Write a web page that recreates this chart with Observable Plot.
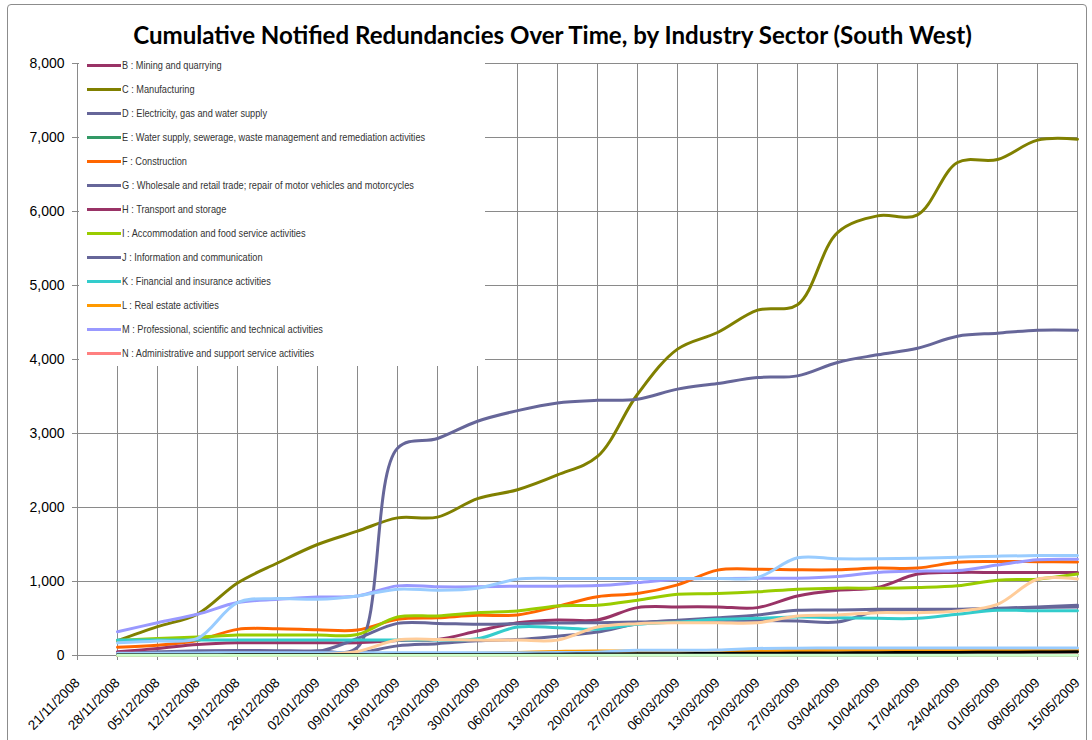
<!DOCTYPE html>
<html>
<head>
<meta charset="utf-8">
<script src="https://cdn.jsdelivr.net/npm/d3@7"></script>
<script src="https://cdn.jsdelivr.net/npm/@observablehq/plot@0.6"></script>
<style>
  html, body { margin: 0; padding: 0; background: #fff; overflow: hidden; }
  #wrap { position: relative; width: 1092px; height: 740px; overflow: hidden; }
  #frame { position: absolute; left: 7px; top: 4px; width: 1080px; height: 760px; border: 1px solid #8c8c8c; border-radius: 4px; box-sizing: border-box; }
  #title { position: absolute; left: 0; width: 1105px; top: 20px; text-align: center; font-family: Lato, "Open Sans", sans-serif; font-weight: 700; font-size: 23px; color: #000; white-space: nowrap; }
  #chart { position: absolute; left: 0; top: 0; }
  #legend { position: absolute; left: 79px; top: 56px; width: 406px; height: 310px; background: #fff; }
  .item { position: absolute; left: 8px; height: 14px; display: flex; align-items: center; white-space: nowrap; }
  .sw { width: 34px; height: 3px; margin-right: 1px; flex: none; }
  .lab { display: inline-block; font-family: "Liberation Sans", Arial, sans-serif; font-size: 11px; color: #333; transform-origin: 0 50%; }
</style>
</head>
<body>
<div id="wrap">
  <div id="frame"></div>
  <div id="chart"></div>
  <div id="title">Cumulative Notified Redundancies Over Time, by Industry Sector (South West)</div>
  <div id="legend"></div>
</div>
<script>
// Category axis (weekly dates)
const dates = ["21/11/2008","28/11/2008","05/12/2008","12/12/2008","19/12/2008","26/12/2008","02/01/2009","09/01/2009","16/01/2009","23/01/2009","30/01/2009","06/02/2009","13/02/2009","20/02/2009","27/02/2009","06/03/2009","13/03/2009","20/03/2009","27/03/2009","03/04/2009","10/04/2009","17/04/2009","24/04/2009","01/05/2009","08/05/2009","15/05/2009"];

// Series names (legend shows B..N)
const names = [
  "B : Mining and quarrying",
  "C : Manufacturing",
  "D : Electricity, gas and water supply",
  "E : Water supply, sewerage, waste management and remediation activities",
  "F : Construction",
  "G : Wholesale and retail trade; repair of motor vehicles and motorcycles",
  "H : Transport and storage",
  "I : Accommodation and food service activities",
  "J : Information and communication",
  "K : Financial and insurance activities",
  "L : Real estate activities",
  "M : Professional, scientific and technical activities",
  "N : Administrative and support service activities",
  "O : Public administration and defence",
  "P : Education",
  "Q : Human health and social work activities",
  "R : Arts, entertainment and recreation",
  "S : Other service activities"
];
const colors = ["#993366","#808000","#666699","#339966","#FF6600","#666699","#993366","#99CC00","#666699","#33CCCC","#FF9900","#9999FF","#FF8080","#99CCFF","#99CCFF","#FFCC99","#000000","#CCFFCC"];
const legendCount = 13;

// Values (cumulative redundancies), index 0 = 21/11/2008 (no data)
const B = [null,0,0,0,0,0,0,0,5,5,5,5,5,5,5,5,5,5,5,8,8,8,8,8,8,8];
const C = [null,200,390,560,980,1250,1500,1680,1860,1870,2120,2240,2440,2690,3530,4140,4365,4667,4740,5716,5941,5955,6662,6703,6964,6977];
const D = [null,0,0,5,10,10,10,30,130,160,200,216,261,317,430,475,511,548,611,615,624,624,624,633,647,656];
const E = [null,0,0,0,0,0,0,0,3,3,3,3,3,3,5,5,5,5,5,5,5,5,5,5,5,5];
const F = [null,113,140,204,353,362,348,344,489,511,543,548,665,795,837,955,1154,1167,1158,1158,1181,1181,1260,1270,1268,1265];
const G = [null,30,50,65,68,65,65,110,2800,2933,3166,3309,3413,3448,3464,3600,3676,3757,3779,3960,4063,4153,4315,4356,4396,4396];
const H = [null,50,95,149,172,172,172,172,204,217,330,443,480,480,647,656,656,647,805,882,919,1100,1122,1122,1122,1122];
const I = [null,204,231,249,276,276,276,285,520,534,579,602,670,680,747,828,837,860,896,910,910,919,941,1018,1032,1100];
const J = [null,20,30,40,45,45,50,230,434,434,421,430,439,443,452,470,475,475,466,452,600,620,622,638,656,679];
const K = [null,208,208,208,208,208,208,208,210,210,226,385,376,355,421,452,489,502,520,511,502,502,557,611,605,605];
const L = [null,0,0,0,0,0,5,10,20,25,30,40,55,60,62,62,62,65,68,70,72,72,72,74,75,76];
const M = [null,321,443,557,715,760,790,805,941,928,928,937,937,945,985,1032,1040,1045,1045,1068,1122,1140,1148,1222,1293,1300];
const N = [null,0,0,0,0,0,0,2,4,4,4,4,4,4,6,6,6,6,6,6,6,6,6,6,6,6];
const O = [null,172,195,231,715,769,760,805,896,882,910,1032,1041,1041,1041,1041,1041,1054,1320,1306,1306,1315,1329,1342,1351,1351];
const P = [null,30,32,35,36,36,36,36,36,36,36,36,40,45,70,72,75,95,99,100,100,100,100,100,100,100];
const Q = [null,0,0,0,0,5,10,55,208,217,208,208,208,385,430,443,443,443,534,548,579,579,602,692,1030,1035];
const R = [null,10,10,10,12,12,12,12,12,15,15,15,18,20,22,25,28,30,33,35,38,40,42,44,46,50];
const S = [null,2,2,2,2,2,2,2,2,3,3,3,3,3,3,4,4,4,4,4,5,5,5,5,5,5];

const seriesValues = [B,C,D,E,F,G,H,I,J,K,L,M,N,O,P,Q,R,S];
const yTicks = [0,1000,2000,3000,4000,5000,6000,7000,8000];

// Build long table
const rows = [];
seriesValues.forEach((vals, s) => {
  vals.forEach((v, i) => {
    if (v != null) rows.push({series: names[s], date: dates[i], value: v});
  });
});

const grid = "#8a8a8a";
const chart = Plot.plot({
  width: 1092,
  height: 740,
  marginLeft: 77,
  marginRight: 15,
  marginTop: 63,
  marginBottom: 85,
  style: {fontFamily: "'Liberation Sans', Arial, sans-serif", fontSize: "14px", color: "#000", background: "transparent", overflow: "visible"},
  x: {type: "point", domain: dates, padding: 0, label: null},
  y: {domain: [0, 8000], label: null},
  color: {domain: names, range: colors},
  marks: [
    Plot.gridX(dates.slice(1), {stroke: grid, strokeOpacity: 1}),
    Plot.gridY(yTicks.slice(1), {stroke: grid, strokeOpacity: 1}),
    Plot.axisY(yTicks, {tickFormat: d3.format(","), tickSize: 5, tickPadding: 8, stroke: grid, fontSize: 14, label: null}),
    Plot.ruleX([dates[0]], {stroke: grid}),
    Plot.ruleY([0], {stroke: grid}),
    Plot.axisX(dates, {tickRotate: -45, tickSize: 5, tickPadding: 20, stroke: grid, fontSize: 13.5, label: null}),
    Plot.line(rows, {x: "date", y: "value", z: "series", stroke: "series", strokeWidth: 3, curve: "catmull-rom"})
  ]
});
document.getElementById("chart").appendChild(chart);

// Legend (first 13 series)
const leg = document.getElementById("legend");
const labs = [];
for (let s = 0; s < legendCount; s++) {
  const it = document.createElement("div");
  it.className = "item";
  it.style.top = (2 + s * 24) + "px";
  const sw = document.createElement("span");
  sw.className = "sw"; sw.style.background = colors[s];
  const lab = document.createElement("span");
  lab.className = "lab"; lab.textContent = names[s];
  it.appendChild(sw); it.appendChild(lab);
  leg.appendChild(it);
  labs.push(lab);
}
// Condense legend text like a narrow font: widest entry (E) ~303px
const wE = labs[3].getBoundingClientRect().width;
if (wE > 0) {
  const k = 303 / wE;
  labs.forEach(l => { l.style.transform = "scaleX(" + k.toFixed(3) + ")"; });
}

// Fit title width to ~839px
const t = document.getElementById("title");
const span = document.createElement("span");
span.textContent = t.textContent; t.textContent = ""; t.appendChild(span);
const w = span.getBoundingClientRect().width;
if (w > 0) t.style.fontSize = (23 * 839 / w).toFixed(2) + "px";
</script>
</body>
</html>
